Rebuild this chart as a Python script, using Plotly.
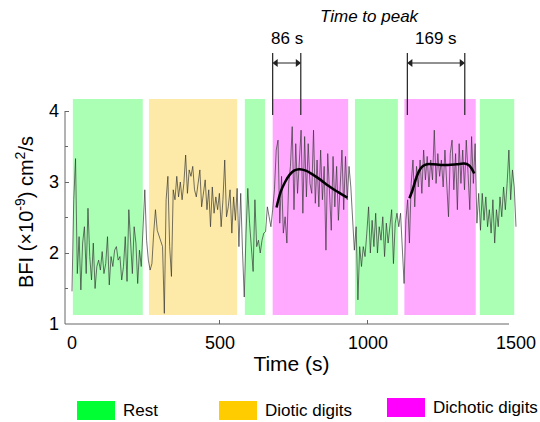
import plotly.graph_objects as go

# ---------------- data ----------------
time_s = list(range(0, 1501, 6))  # sampling grid (s)
bfi = [
    1.46, 2.75, 3.33, 1.71, 2.23, 1.48, 2.14, 2.37, 1.71, 2.63,
    1.95, 1.62, 2.14, 1.50, 1.81, 1.90, 1.76, 2.02, 1.71, 1.85,
    2.23, 1.55, 1.95, 1.81, 2.04, 2.09, 1.90, 1.95, 1.62, 1.81,
    2.23, 1.60, 2.61, 2.09, 1.71, 2.37, 2.14, 1.57, 2.04, 1.81,
    2.37, 2.89, 2.18, 1.90, 1.76, 1.85, 2.28, 2.61, 2.32, 2.25,
    2.18, 2.09, 1.15, 2.75, 3.08, 2.09, 1.67, 2.89, 2.75, 3.08,
    2.79, 3.00, 2.75, 2.98, 3.38, 2.84, 3.17, 3.08, 3.22, 2.89,
    2.79, 2.98, 3.17, 2.65, 2.89, 3.03, 2.61, 2.89, 2.37, 2.93,
    2.56, 2.79, 2.61, 2.84, 2.37, 2.75, 3.31, 2.51, 2.65, 2.89,
    2.28, 2.79, 2.46, 2.91, 2.09, 2.84, 2.04, 1.38, 2.28, 2.91,
    2.42, 2.14, 1.74, 2.75, 2.09, 2.18, 2.00, 2.18, 2.28, 2.30,
    2.65, 2.51, 2.37, 2.61, 2.89, 3.45, 3.59, 2.42, 3.08, 2.28,
    2.51, 2.14, 2.98, 3.22, 3.78, 2.61, 3.54, 2.84, 3.22, 3.73,
    2.56, 3.64, 2.79, 3.54, 2.98, 2.84, 3.73, 2.70, 3.31, 2.65,
    3.45, 2.75, 3.22, 2.04, 3.40, 2.79, 2.32, 3.36, 2.65, 3.22,
    2.46, 2.93, 3.45, 2.61, 3.36, 2.75, 3.22, 2.93, 2.37, 2.04,
    2.37, 1.34, 2.09, 1.81, 2.09, 1.95, 2.28, 2.65, 2.00, 2.46,
    2.09, 2.56, 2.00, 2.37, 2.18, 2.51, 1.95, 2.42, 2.14, 2.37,
    2.61, 1.85, 2.42, 2.56, 2.37, 2.56, 2.14, 1.57, 2.46, 2.75,
    2.14, 2.98, 3.31, 2.65, 3.22, 2.93, 3.31, 2.84, 3.45, 3.03,
    3.36, 2.93, 3.31, 3.03, 3.73, 2.98, 3.40, 3.08, 3.31, 2.93,
    3.45, 3.03, 2.51, 3.40, 3.59, 2.89, 3.40, 2.61, 3.54, 2.98,
    3.45, 2.89, 3.59, 3.12, 2.61, 3.64, 2.98, 3.54, 2.42, 2.84,
    2.32, 2.84, 2.46, 2.79, 2.37, 2.61, 2.28, 2.75, 2.14, 2.61,
    2.37, 2.79, 2.51, 2.93, 2.61, 2.98, 3.45, 2.75, 3.17, 2.93, 2.37,
]

fit1_t = [691, 705, 720, 735, 750, 768, 790, 815, 840, 865, 890, 910, 930]
fit1_v = [2.64, 2.86, 3.00, 3.10, 3.16, 3.18, 3.16, 3.10, 3.03, 2.95, 2.88, 2.83, 2.78]
fit2_t = [1140, 1150, 1164, 1176, 1187, 1200, 1220, 1245, 1270, 1300, 1325, 1340, 1350, 1359]
fit2_v = [2.77, 2.88, 3.07, 3.18, 3.23, 3.25, 3.25, 3.24, 3.24, 3.25, 3.26, 3.24, 3.19, 3.12]

# blocks: (start, end, condition)
block_start = [3, 260, 584, 678, 956, 1123, 1378]
block_end = [239, 558, 652, 933, 1101, 1364, 1494]
block_cond = ["Rest", "Diotic digits", "Rest", "Dichotic digits", "Rest", "Dichotic digits", "Rest"]

conditions = ["Rest", "Diotic digits", "Dichotic digits"]
cond_color = {"Rest": "#00ff33", "Diotic digits": "#ffcc00", "Dichotic digits": "#ff00ff"}
cond_light = {"Rest": "#aaffb4", "Diotic digits": "#fdeaa8", "Dichotic digits": "#ffaaff"}

ttp_onset = [678, 1133]
ttp_peak = [773, 1327]
ttp_label = ["86 s", "169 s"]

x_ticks = [0, 500, 1000, 1500]
y_ticks = [1, 2, 3, 4]

# ---------------- layout helpers ----------------
FONT = "Liberation Sans, Arial, sans-serif"
L, R, T, B = 65, 518, 45, 324
W, H = R - L, B - T
ARROW_Y = 4.676
HEAD_OFF = 11  # arrow-head offset (s) so that the tip touches the bar


def pxx(px):
    return (px - L) / W


def pxy(py):
    return (B - py) / H


fig = go.Figure()

fig.add_trace(go.Scatter(x=time_s, y=bfi, mode="lines",
                         line=dict(color="rgba(50,50,50,0.68)", width=1),
                         hoverinfo="skip", showlegend=False))
fig.add_trace(go.Scatter(x=fit1_t, y=fit1_v, mode="lines", line_shape="spline",
                         line=dict(color="black", width=2.5), showlegend=False))
fig.add_trace(go.Scatter(x=fit2_t, y=fit2_v, mode="lines", line_shape="spline",
                         line=dict(color="black", width=2.5), showlegend=False))

# arrow heads of time-to-peak markers
fig.add_trace(go.Scatter(x=[v + HEAD_OFF for v in ttp_onset], y=[ARROW_Y] * len(ttp_onset),
                         mode="markers",
                         marker=dict(symbol="triangle-left", size=7, color="#222"),
                         cliponaxis=False, showlegend=False, hoverinfo="skip"))
fig.add_trace(go.Scatter(x=[v - HEAD_OFF for v in ttp_peak], y=[ARROW_Y] * len(ttp_peak),
                         mode="markers",
                         marker=dict(symbol="triangle-right", size=7, color="#222"),
                         cliponaxis=False, showlegend=False, hoverinfo="skip"))

shapes = []
for s, e, c in zip(block_start, block_end, block_cond):
    shapes.append(dict(type="rect", xref="x", yref="y", x0=s, x1=e, y0=1.127, y1=4.17,
                       fillcolor=cond_light[c], line=dict(width=0), layer="below"))

# axis lines
shapes.append(dict(type="line", xref="paper", yref="y", x0=0, x1=0, y0=1, y1=4,
                   line=dict(color="#666", width=1)))
shapes.append(dict(type="line", xref="paper", yref="paper", x0=0, x1=pxx(509), y0=0, y1=0,
                   line=dict(color="#666", width=1)))

annotations = []
# time-to-peak markers
for on, pk, lab in zip(ttp_onset, ttp_peak, ttp_label):
    for xv in (on, pk):
        shapes.append(dict(type="line", xref="x", yref="y", x0=xv, x1=xv, y0=3.944, y1=4.817,
                           line=dict(color="#222", width=1.2)))
    shapes.append(dict(type="line", xref="x", yref="y", x0=on + 8, x1=pk - 8,
                       y0=ARROW_Y, y1=ARROW_Y, line=dict(color="#222", width=1)))
    annotations.append(dict(x=(on + pk) / 2, y=pxy(38), xref="x", yref="paper",
                            xanchor="center", yanchor="middle",
                            text=lab, showarrow=False,
                            font=dict(family=FONT, size=17, color="black")))

annotations.append(dict(x=pxx(370), y=pxy(16), xref="paper", yref="paper",
                        xanchor="center", yanchor="middle",
                        text="<i>Time to peak</i>", showarrow=False,
                        font=dict(family=FONT, size=17, color="black")))

# y-axis title
annotations.append(dict(x=pxx(24), y=pxy(212), xref="paper", yref="paper",
                        xanchor="center", yanchor="middle", textangle=-90,
                        text="BFI (×10<sup>-9</sup>) cm<sup>2</sup>/s", showarrow=False,
                        font=dict(family=FONT, size=20, color="black")))

# legend (custom)
leg_box_x = [77, 219, 387]
leg_box_y = [401, 401, 398]
for c, bx, by in zip(conditions, leg_box_x, leg_box_y):
    shapes.append(dict(type="rect", xref="paper", yref="paper",
                       x0=pxx(bx), x1=pxx(bx + 38), y0=pxy(by + 19), y1=pxy(by),
                       fillcolor=cond_color[c], line=dict(width=0)))
    annotations.append(dict(x=pxx(bx + 44), y=pxy(by + 9.5), xref="paper", yref="paper",
                            xanchor="left", yanchor="middle", text=c, showarrow=False,
                            font=dict(family=FONT, size=17, color="black")))

fig.update_layout(
    width=540, height=422,
    margin=dict(l=L, r=540 - R, t=T, b=422 - B, pad=0, autoexpand=False),
    paper_bgcolor="white", plot_bgcolor="white",
    font=dict(family=FONT, color="black"),
    showlegend=False,
    shapes=shapes, annotations=annotations,
    xaxis=dict(range=[-23.6, 1506.8], tickvals=x_ticks, ticks="", showline=False,
               automargin=False,
               showgrid=False, zeroline=False, tickfont=dict(size=18),
               ticklabelstandoff=6,
               minor=dict(tickvals=[500, 1000], ticks="inside", ticklen=4,
                          tickcolor="#666", showgrid=False),
               title=dict(text="Time (s)", font=dict(size=21), standoff=4)),
    yaxis=dict(range=[1, 1 + H / 71], tickvals=y_ticks, ticks="inside", ticklen=4,
               automargin=False,
               tickcolor="#666", showline=False, showgrid=False, zeroline=False,
               tickfont=dict(size=18), ticklabelstandoff=5,
               minor=dict(tickvals=[1.5, 2.5, 3.5], ticks="inside", ticklen=3,
                          tickcolor="#666", showgrid=False)),
)

fig.write_html("out.html")
